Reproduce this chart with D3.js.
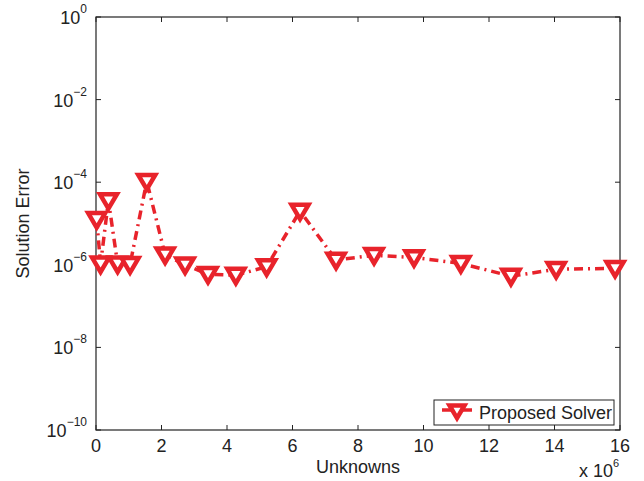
<!DOCTYPE html>
<html>
<head>
<meta charset="utf-8">
<script src="https://cdn.jsdelivr.net/npm/d3@7"></script>
<style>
  body { margin: 0; background: #fff; }
  text { font-family: "Liberation Sans", Arial, sans-serif; fill: #222; }
</style>
</head>
<body>
<div id="chart"></div>
<script>
// values
var unknowns = [0.02e6, 0.14e6, 0.38e6, 0.66e6, 1.04e6, 1.55e6, 2.11e6, 2.72e6, 3.42e6, 4.27e6,
                5.21e6, 6.23e6, 7.33e6, 8.49e6, 9.71e6, 11.14e6, 12.67e6, 14.05e6, 15.85e6];
var solutionError = [1.25e-5, 1.05e-6, 3.6e-5, 1.05e-6, 1.02e-6, 1.05e-4, 1.75e-6, 1.0e-6, 5.9e-7, 5.6e-7,
                     9.0e-7, 2.0e-5, 1.3e-6, 1.7e-6, 1.5e-6, 1.08e-6, 5.3e-7, 7.8e-7, 8.2e-7];
var xTicks = [0, 2, 4, 6, 8, 10, 12, 14, 16];
var yExponents = [0, -2, -4, -6, -8, -10];
var seriesName = "Proposed Solver";

function draw() {
  var w = 644, h = 481;
  var mLeft = 96, mRight = 620, mTop = 17, mBottom = 430;
  var red = "#e8232b";

  var svg = d3.select("#chart").append("svg")
    .attr("width", w).attr("height", h);

  var x = d3.scaleLinear().domain([0, 16e6]).range([mLeft, mRight]);
  var y = d3.scaleLog().domain([1e-10, 1]).range([mBottom, mTop]);

  // box
  svg.append("rect")
    .attr("x", mLeft).attr("y", mTop)
    .attr("width", mRight - mLeft).attr("height", mBottom - mTop)
    .attr("fill", "none").attr("stroke", "#222").attr("stroke-width", 1.2);

  var tickLen = 5;
  // x ticks (bottom + top, inward)
  xTicks.forEach(function(t) {
    var px = x(t * 1e6);
    svg.append("line").attr("x1", px).attr("x2", px)
      .attr("y1", mBottom).attr("y2", mBottom - tickLen).attr("stroke", "#222");
    svg.append("line").attr("x1", px).attr("x2", px)
      .attr("y1", mTop).attr("y2", mTop + tickLen).attr("stroke", "#222");
    svg.append("text")
      .attr("x", px).attr("y", mBottom + 22)
      .attr("text-anchor", "middle")
      .attr("font-size", "18px")
      .text(t);
  });

  // y ticks
  yExponents.forEach(function(e) {
    var py = y(Math.pow(10, e));
    svg.append("line").attr("x1", mLeft).attr("x2", mLeft + tickLen)
      .attr("y1", py).attr("y2", py).attr("stroke", "#222");
    svg.append("line").attr("x1", mRight).attr("x2", mRight - tickLen)
      .attr("y1", py).attr("y2", py).attr("stroke", "#222");
    var t = svg.append("text")
      .attr("x", mLeft - 9).attr("y", py + 7)
      .attr("text-anchor", "end")
      .attr("font-size", "18px");
    t.append("tspan").text("10");
    t.append("tspan").attr("dy", -11).attr("font-size", "12px")
      .text(e === 0 ? "0" : "\u2212" + Math.abs(e));
  });

  // axis labels
  svg.append("text")
    .attr("x", (mLeft + mRight) / 2).attr("y", 473)
    .attr("text-anchor", "middle").attr("font-size", "18px")
    .text("Unknowns");

  svg.append("text")
    .attr("transform", "translate(29," + ((mTop + mBottom) / 2) + ") rotate(-90)")
    .attr("text-anchor", "middle").attr("font-size", "18px")
    .text("Solution Error");

  var sc = svg.append("text")
    .attr("x", 579).attr("y", 477)
    .attr("font-size", "18px");
  sc.append("tspan").text("x 10");
  sc.append("tspan").attr("dy", -10).attr("font-size", "11px").text("6");

  // series
  var data = unknowns.map(function(u, i) { return { u: u, e: solutionError[i] }; });

  var line = d3.line()
    .x(function(d) { return x(d.u); })
    .y(function(d) { return y(d.e); });

  svg.append("path")
    .datum(data)
    .attr("d", line)
    .attr("fill", "none")
    .attr("stroke", red)
    .attr("stroke-width", 3.5)
    .attr("stroke-dasharray", "9,5,2,5");

  function tri(cx, cy, s) {
    // downward triangle centred on (cx, cy)
    return "M" + (cx - s) + "," + (cy - s * 0.75) +
           "L" + (cx + s) + "," + (cy - s * 0.75) +
           "L" + cx + "," + (cy + s * 0.95) + "Z";
  }

  svg.selectAll(".mk")
    .data(data)
    .enter()
    .append("path")
    .attr("class", "mk")
    .attr("d", function(d) { return tri(x(d.u), y(d.e), 8.5); })
    .attr("fill", "#fff")
    .attr("stroke", red)
    .attr("stroke-width", 4.5)
    .attr("stroke-linejoin", "miter");

  // legend
  var lg = svg.append("g");
  lg.append("rect")
    .attr("x", 434).attr("y", 400)
    .attr("width", 180).attr("height", 25)
    .attr("fill", "#fff").attr("stroke", "#222").attr("stroke-width", 1);
  lg.append("line")
    .attr("x1", 442).attr("x2", 472).attr("y1", 410).attr("y2", 410)
    .attr("stroke", red).attr("stroke-width", 3.5)
    .attr("stroke-dasharray", "9,5,2,5");
  lg.append("path")
    .attr("d", tri(457, 411, 7.5))
    .attr("fill", "#fff").attr("stroke", red).attr("stroke-width", 4.5);
  lg.append("text")
    .attr("x", 479).attr("y", 419)
    .attr("font-size", "18px")
    .text(seriesName);
}
draw();
</script>
</body>
</html>
